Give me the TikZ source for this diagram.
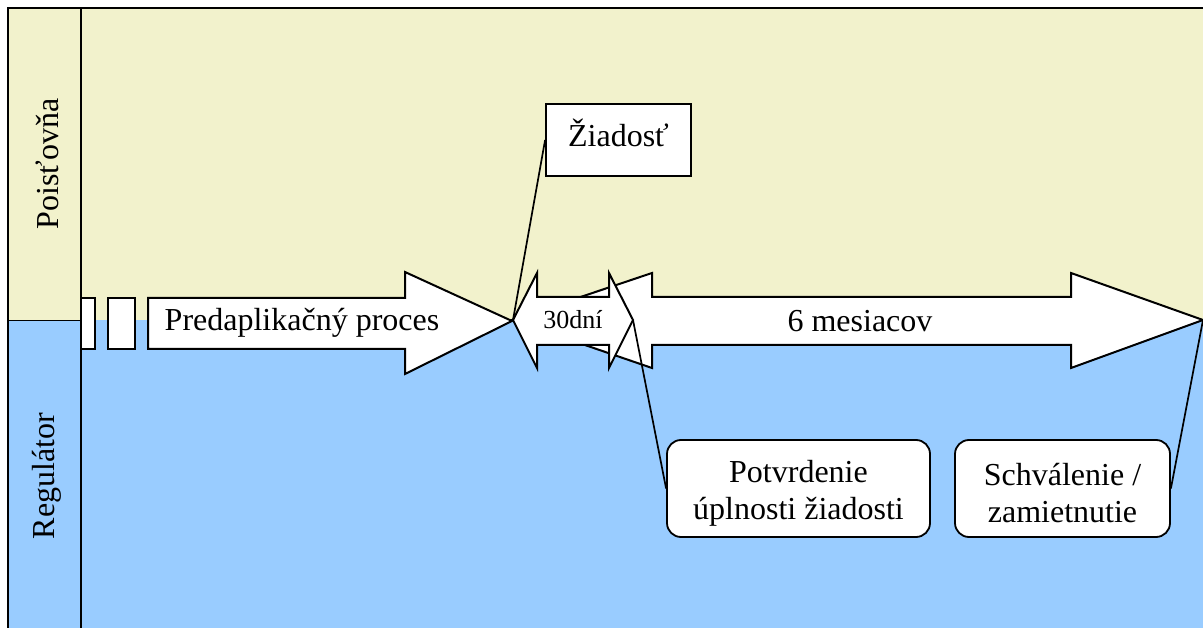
\documentclass[tikz,border=0pt]{standalone}
\usepackage{fontspec}
\setmainfont{Liberation Serif}
\definecolor{laneY}{HTML}{F2F2CC}
\definecolor{laneB}{HTML}{99CCFF}
\tikzset{
  frame/.style={line width=2pt},
  blockarrow/.style={draw, fill=white, line width=2pt, line join=miter},
  lbl/.style={font=\fontsize{32}{36.8}\selectfont, inner sep=0pt},
  smalllbl/.style={font=\fontsize{26}{30}\selectfont, inner sep=0pt},
  box/.style={draw, fill=white, line width=1.8pt, inner sep=0pt},
  rbox/.style={draw, fill=white, line width=1.8pt, rounded corners=14pt, inner sep=0pt},
  callout/.style={draw, line width=1.7pt},
}
\begin{document}
\begin{tikzpicture}[x=1pt,y=-1pt]
\useasboundingbox (0,0) rectangle (1203,628);
% lanes
\fill[laneY] (8,8) rectangle (1203,320);
\fill[laneB] (8,320) rectangle (1203,628);
\draw[frame] (8,628) -- (8,8) -- (1203,8);
\draw[frame] (81,8) -- (81,628);
\draw[line width=0.6pt] (8,320) -- (81,320);
\node[lbl, rotate=90] (lane1) at (47,164) {Poisťovňa};
\node[lbl, rotate=90] (lane2) at (47,476) {Regulátor};
% small rectangles
\draw[blockarrow] (81,298) rectangle (95,349);
\draw[blockarrow] (108,298) rectangle (135,349);
% tips
\coordinate (tipA) at (513,320);
\coordinate (tipB) at (633,320);
\coordinate (tipC) at (1203,320);
% Predaplikacny arrow
\draw[blockarrow] (148,298) -- (405,298) -- (405,272) -- (512,321) -- (405,374) -- (405,349) -- (148,349) -- cycle;
\node[lbl] (pred) at (302,323) {Predaplikačný proces};
% 6 mesiacov arrow
\draw[blockarrow] (512,320) -- (652,273) -- (652,297) -- (1071,297) -- (1071,273) -- (1203,320) -- (1071,368) -- (1071,345) -- (652,345) -- (652,368) -- cycle;
\node[lbl] (mes) at (860,321) {6 mesiacov};
% 30 dni arrow
\draw[blockarrow] (513,320) -- (537,273) -- (537,297) -- (609,297) -- (609,273) -- (633,320) -- (609,368) -- (609,345) -- (537,345) -- (537,368) -- cycle;
\node[smalllbl] (dni) at (573,320) {30dní};
% boxes
\node[box, minimum width=145pt, minimum height=72pt] (ziad) at (618.5,140) {};
\node[lbl, anchor=base] (ziadt) at (618.5,147) {Žiadosť};
\node[rbox, minimum width=263pt, minimum height=97pt] (potv) at (798.5,488.5) {};
\node[lbl, align=center] (potvt) at (798.5,493) {Potvrdenie\\úplnosti žiadosti};
\node[rbox, minimum width=215pt, minimum height=97pt] (schv) at (1062.5,488.5) {};
\node[lbl, align=center] (schvt) at (1062.5,493) {Schválenie /\\zamietnutie};
% callouts
\draw[callout] (ziad.west) -- (tipA);
\draw[callout] (potv.west) -- (tipB);
\draw[callout] (schv.east) -- (tipC);
\end{tikzpicture}
\end{document}
